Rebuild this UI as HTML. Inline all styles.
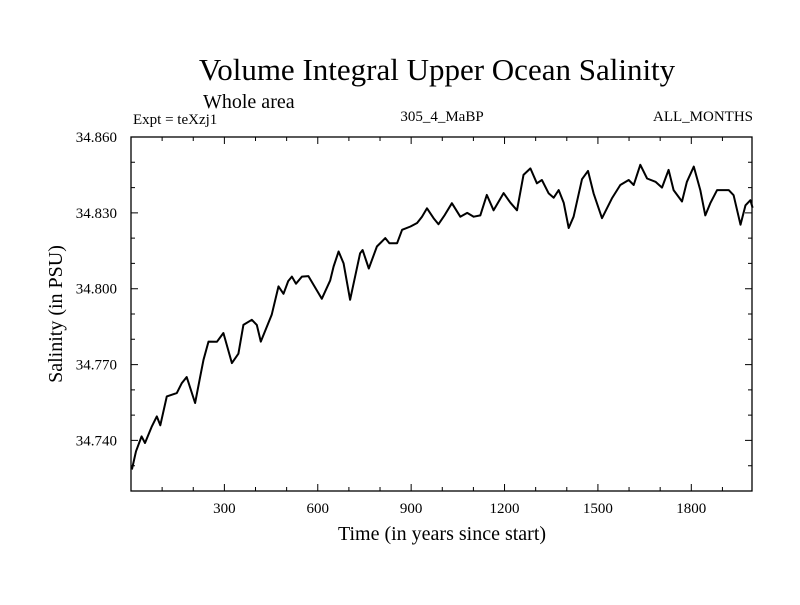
<!DOCTYPE html>
<html><head><meta charset="utf-8"><style>
body{margin:0;background:#fff;width:800px;height:600px;overflow:hidden}
text{font-family:"Liberation Serif",serif;fill:#000}
</style></head><body>
<svg id="chart" width="800" height="600">
<text x="437" y="80" font-size="31" text-anchor="middle">Volume Integral Upper Ocean Salinity</text>
<text x="203" y="108" font-size="20">Whole area</text>
<text x="133" y="124" font-size="15">Expt = teXzj1</text>
<text x="442" y="121" font-size="15" text-anchor="middle">305_4_MaBP</text>
<text x="753" y="121" font-size="15" text-anchor="end">ALL_MONTHS</text>
<text x="442" y="540" font-size="20" text-anchor="middle">Time (in years since start)</text>
<text transform="translate(62,314) rotate(-90)" font-size="20" text-anchor="middle">Salinity (in PSU)</text>
<g id="axes"></g>
<path id="line" fill="none" stroke="#000" stroke-width="2" stroke-linejoin="round"></path>
</svg>
<script>
const years=[3,16,34,45,67,83,94,115,147,163,179,206,222,233,249,276,297,324,345,361,388,404,417,452,474,490,505,517,530,549,570,602,613,640,651,667,683,704,736,744,764,790,817,830,855,871,898,919,935,951,972,988,1008,1031,1058,1080,1101,1122,1143,1165,1197,1219,1240,1261,1283,1304,1320,1342,1358,1374,1390,1406,1422,1449,1468,1486,1513,1545,1572,1599,1615,1636,1658,1685,1706,1727,1743,1770,1786,1808,1829,1845,1861,1883,1920,1936,1958,1974,1990,1997];
const salinity=[34.7285,34.7357,34.7416,34.739,34.7456,34.7495,34.746,34.7574,34.7587,34.7626,34.7651,34.7548,34.765,34.7719,34.7791,34.779,34.7825,34.7706,34.7743,34.7857,34.7877,34.7857,34.7791,34.7897,34.8009,34.798,34.803,34.8048,34.802,34.8048,34.805,34.7983,34.796,34.8033,34.8088,34.8147,34.810,34.7956,34.814,34.8153,34.808,34.8167,34.820,34.818,34.818,34.8233,34.8246,34.826,34.8285,34.8318,34.8279,34.8255,34.8292,34.8338,34.8285,34.830,34.8285,34.829,34.8371,34.831,34.8378,34.834,34.831,34.845,34.8476,34.8417,34.843,34.8377,34.836,34.839,34.834,34.824,34.8285,34.8433,34.8466,34.8377,34.8279,34.8357,34.841,34.843,34.841,34.849,34.8436,34.8423,34.840,34.847,34.839,34.8345,34.8423,34.8483,34.839,34.829,34.8338,34.839,34.839,34.837,34.8253,34.833,34.835,34.832];
const xTicks=[300,600,900,1200,1500,1800];
const yTicks=[34.74,34.77,34.80,34.83,34.86];
const L=131,R=752,T=137,B=491,X0=0,X1=1995,Y0=34.72,Y1=34.86;
const sx=v=>L+(v-X0)/(X1-X0)*(R-L);
const sy=v=>B-(v-Y0)/(Y1-Y0)*(B-T);
const NS="http://www.w3.org/2000/svg";
const ax=document.getElementById('axes');
function mk(t,a){const e=document.createElementNS(NS,t);for(const k in a)e.setAttribute(k,a[k]);return e;}
const frame=mk('rect',{x:L,y:T,width:R-L,height:B-T,fill:'none',stroke:'#000','stroke-width':1.3});


ax.appendChild(frame);
let d='';
for(let v=100;v<X1;v+=100){const x=sx(v),len=(v%300===0)?7:4;d+=`M${x},${B}v${-len}M${x},${T}v${len}`;}
for(let v=Y0+0.01;v<Y1-0.001;v+=0.01){const y=sy(v);const maj=yTicks.some(t=>Math.abs(t-v)<1e-4);const len=maj?7:4;d+=`M${L},${y}h${len}M${R},${y}h${-len}`;}
const tk=mk('path',{d:d,stroke:'#000','stroke-width':1});


ax.appendChild(tk);
xTicks.forEach(v=>{const t=mk('text',{x:sx(v),y:513,'font-size':15,'text-anchor':'middle'});t.textContent=v;


ax.appendChild(t);});
yTicks.forEach(v=>{const t=mk('text',{x:117,y:sy(v)+5,'font-size':15,'text-anchor':'end'});t.textContent=v.toFixed(3);


ax.appendChild(t);});
document.getElementById('line').setAttribute('d',years.map((y,i)=>(i?'L':'M')+sx(y).toFixed(1)+','+sy(salinity[i]).toFixed(1)).join(''));
</script>
</body></html>
